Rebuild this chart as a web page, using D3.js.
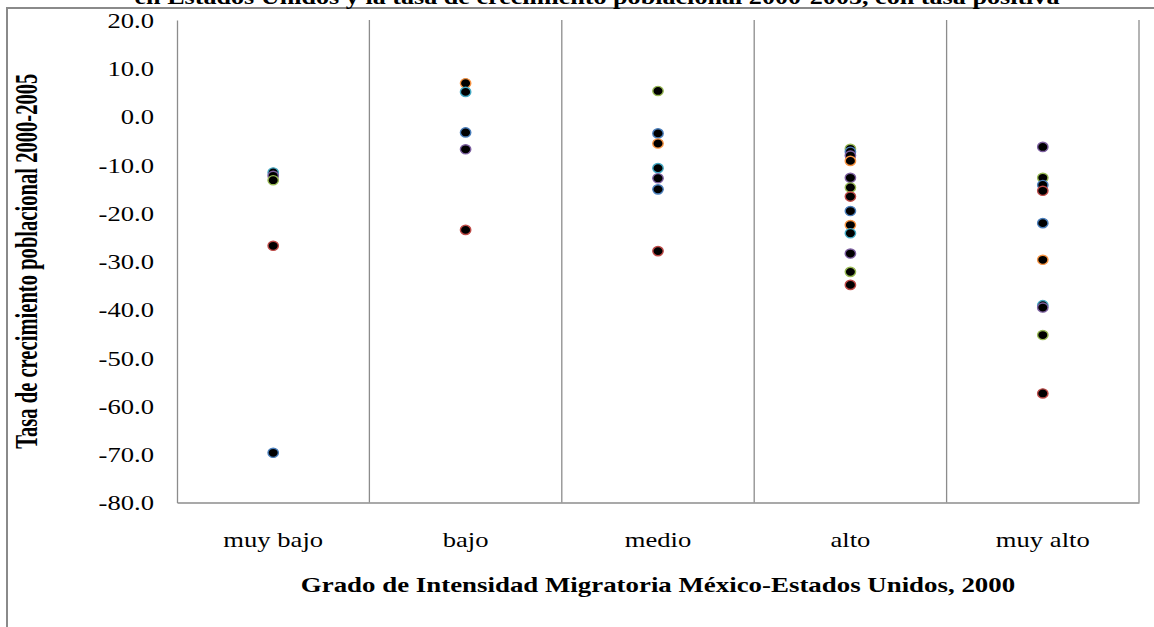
<!DOCTYPE html>
<html>
<head>
<meta charset="utf-8">
<script src="https://cdn.jsdelivr.net/npm/d3@7"></script>
<style>
  body { margin: 0; background: #fff; }
  svg { display: block; font-family: "Liberation Serif", "DejaVu Serif", serif; }
</style>
</head>
<body>
<div id="chart"></div>
<script>
"use strict";

// categories on the x axis
const categories = ["muy bajo", "bajo", "medio", "alto", "muy alto"];

// growth rate 2000-2005 of each municipality, by category
const muyBajo = [-11.6, -12.3, -13.2, -26.8, -69.7];
const bajo = [6.9, 5.1, -3.3, -6.8, -23.5];
const medio = [5.3, -3.5, -5.6, -10.7, -12.8, -15.1, -27.9];
const alto = [-6.7, -7.3, -8.1, -9.2, -12.7, -14.7, -16.6, -19.6, -22.5, -24.2, -28.4, -32.2, -34.9];
const muyAlto = [-6.3, -12.7, -14.2, -15.4, -22.1, -29.7, -39.1, -39.6, -45.3, -57.4];

const yTicks = [20, 10, 0, -10, -20, -30, -40, -50, -60, -70, -80];

// marker edge colour (palette index) per point, same order as the values
const palette = ["#4a7ebb", "#be4b48", "#98b954", "#7d60a0", "#46aac5", "#f69240"];
const edgeIdx = [
  [4, 3, 2, 1, 0],
  [5, 4, 0, 3, 1],
  [2, 0, 5, 4, 3, 0, 1],
  [2, 0, 3, 5, 3, 2, 1, 0, 5, 4, 3, 2, 1],
  [3, 2, 0, 1, 0, 5, 4, 3, 2, 1]
];

const seriesValues = [muyBajo, bajo, medio, alto, muyAlto];

const width = 1154, height = 627;
const plot = { left: 177, right: 1139, top: 20, bottom: 502.5 };
const stretch = 1.21; // the original picture is wider than tall

const svg = d3.select("#chart").append("svg")
  .attr("width", width).attr("height", height);

// outer frame (partly cut off)
svg.append("rect")
  .attr("x", 7).attr("y", 8).attr("width", width + 20).attr("height", height + 20)
  .style("fill", "none").style("stroke", "#8a8a8a").style("stroke-width", 2);

// title, only its lower part shows
svg.append("text")
  .attr("x", 597).attr("y", 4)
  .attr("text-anchor", "middle")
  .attr("textLength", 925).attr("lengthAdjust", "spacingAndGlyphs")
  .style("font-size", "20px").style("font-weight", "bold")
  .text("en Estados Unidos y la tasa de crecimiento poblacional 2000-2005, con tasa positiva");

const xScale = d3.scaleBand().domain(categories).range([plot.left, plot.right]).padding(0);
const yScale = d3.scaleLinear().domain([-80, 20]).range([plot.bottom, plot.top]);

// category separators
svg.append("g").selectAll("line").data(categories)
  .enter().append("line")
  .attr("x1", d => xScale(d) + xScale.bandwidth()).attr("x2", d => xScale(d) + xScale.bandwidth())
  .attr("y1", yScale(20)).attr("y2", yScale(-80))
  .style("stroke", "#8c8c8c").style("stroke-width", 1.3);

// y axis
let yAxis = d3.axisLeft(yScale).tickValues(yTicks).tickSize(0).tickFormat(d => d.toFixed(1));
let gy = svg.append("g").attr("transform", `translate(${plot.left},0)`).call(yAxis);
gy.select(".domain").style("stroke", "#8c8c8c").style("stroke-width", 1.3);
gy.selectAll("text")
  .attr("x", -23 / stretch).attr("dy", "0.34em")
  .attr("transform", `scale(${stretch},1)`)
  .style("font-size", "22px").style("font-family", "Liberation Serif").style("fill", "#000");

// x axis
let xAxis = d3.axisBottom(xScale).tickSize(0);
let gx = svg.append("g").attr("transform", `translate(0,${plot.bottom})`).call(xAxis);
gx.select(".domain").style("stroke", "#8c8c8c").style("stroke-width", 1.3);
gx.selectAll("text")
  .attr("y", 44.5).attr("dy", 0)
  .attr("transform", `scale(${stretch},1)`)
  .style("font-size", "22px").style("font-family", "Liberation Serif").style("fill", "#000");

// points
const points = [];
seriesValues.forEach((vals, ci) => {
  vals.forEach((v, i) => points.push({ cat: categories[ci], value: v, edge: palette[edgeIdx[ci][i]] }));
});

svg.append("g").selectAll("ellipse").data(points)
  .enter().append("ellipse")
  .attr("cx", d => xScale(d.cat) + xScale.bandwidth() / 2)
  .attr("cy", d => yScale(d.value))
  .attr("rx", 5.2).attr("ry", 4.6)
  .style("fill", "#000").style("stroke", d => d.edge).style("stroke-width", 1.4);

// axis titles
svg.append("text")
  .attr("transform", `translate(${(plot.left + plot.right) / 2},592) scale(1.28,1)`)
  .attr("text-anchor", "middle")
  .style("font-size", "21px").style("font-weight", "bold")
  .text("Grado de Intensidad Migratoria México-Estados Unidos, 2000");

svg.append("text")
  .attr("transform", `translate(37,${(plot.top + plot.bottom) / 2}) scale(1.5,1) rotate(-90)`)
  .attr("text-anchor", "middle")
  .style("font-size", "20.6px").style("font-weight", "bold")
  .text("Tasa de crecimiento poblacional 2000-2005");
</script>
</body>
</html>
